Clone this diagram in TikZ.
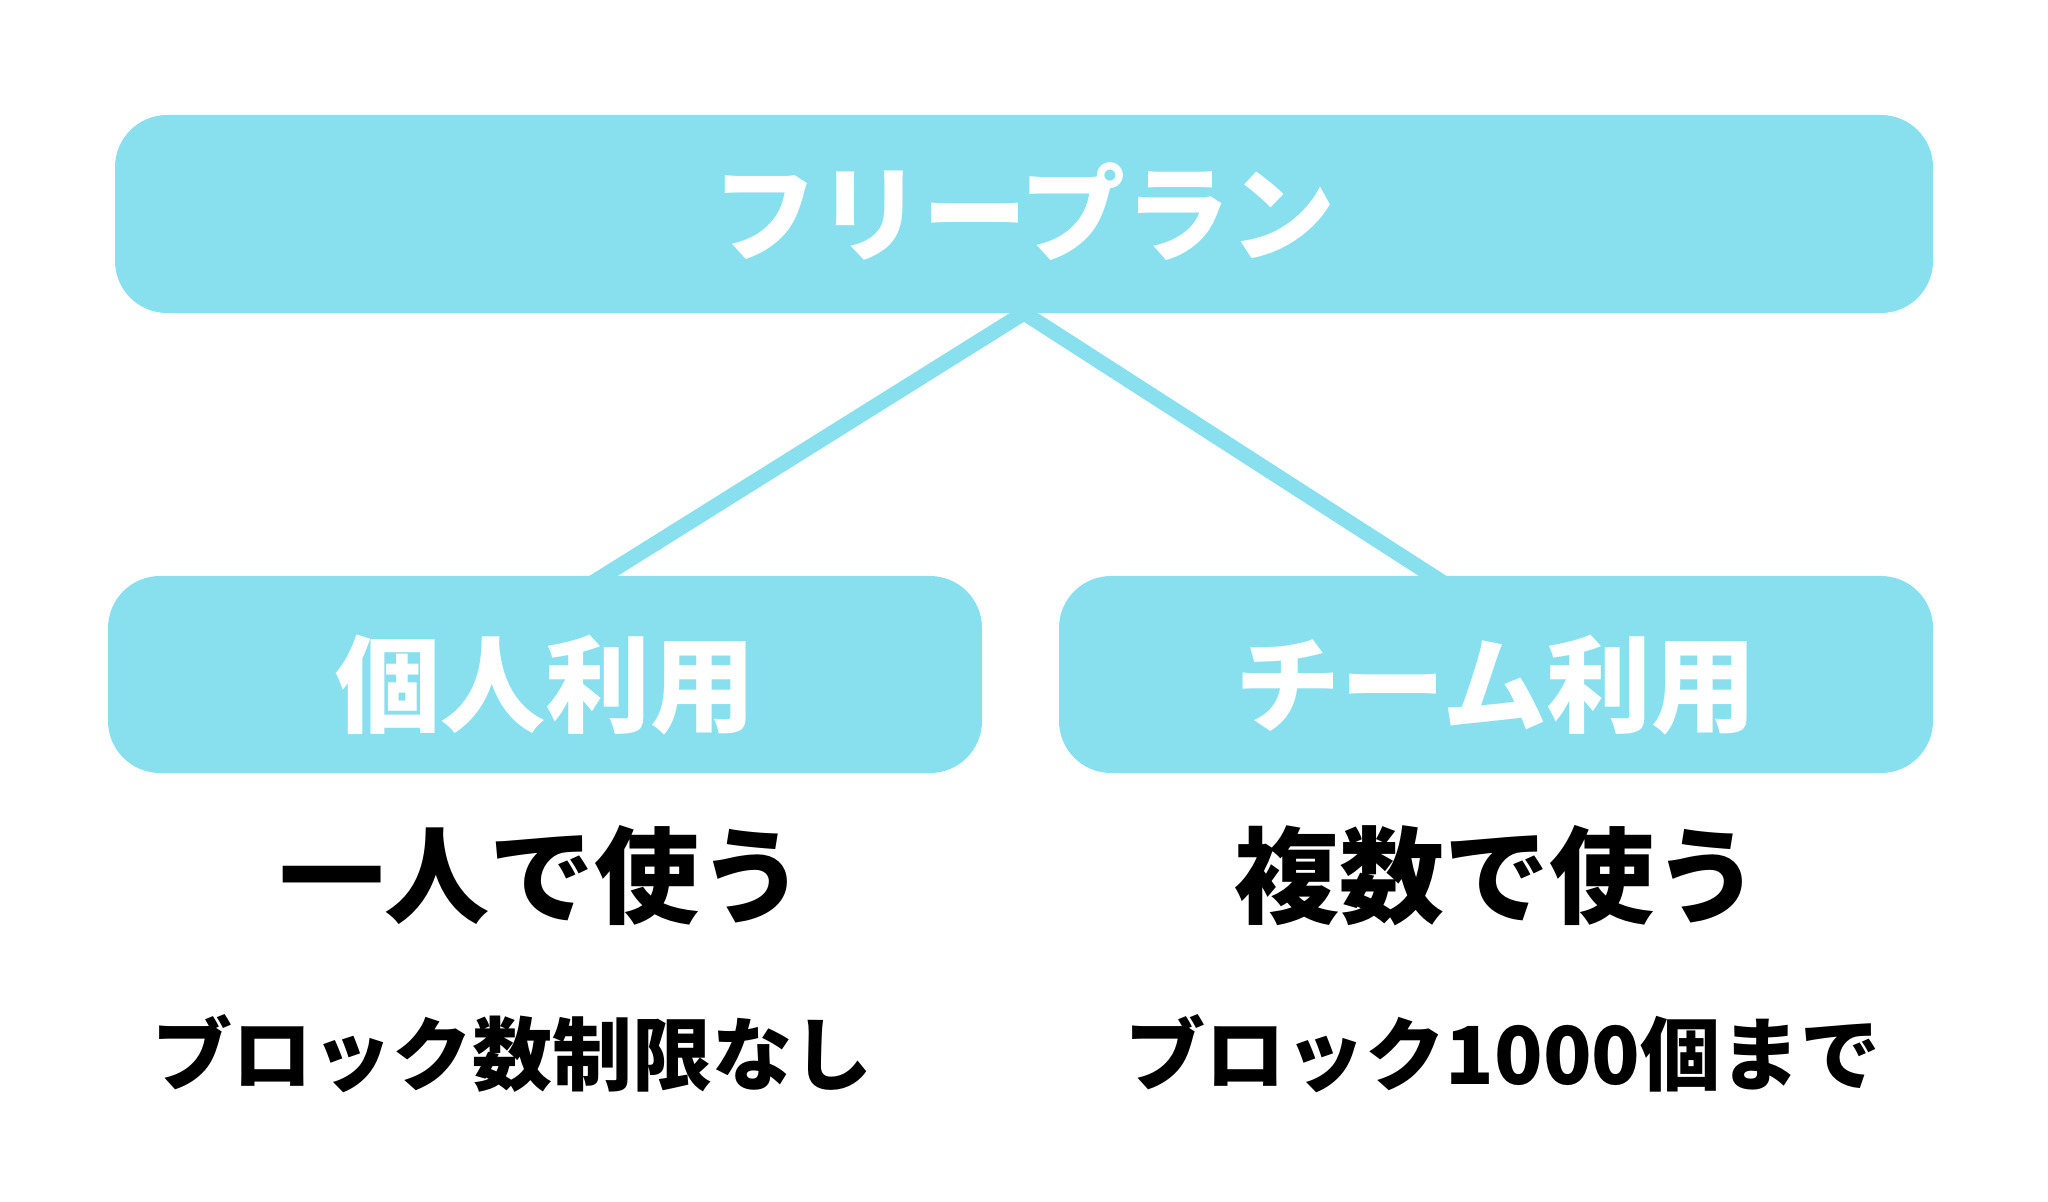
\documentclass[tikz,border=0pt]{standalone}
\usepackage{fontspec}
\setmainfont{Noto Sans CJK JP}
\usepackage{tikz}
\usetikzlibrary{backgrounds}
\definecolor{planblue}{HTML}{88E0EF}
\newcommand{\bigsize}{\fontsize{52.5pt}{60pt}\selectfont}
\newcommand{\smallsize}{\fontsize{40pt}{48pt}\selectfont}
\tikzstyle{planbox}=[fill=planblue, rounded corners=26pt, inner sep=0, outer sep=0,
                     text=white, font=\bfseries\bigsize, text height=46.2pt, text depth=6.3pt]
\tikzstyle{usebox}=[planbox, text height=56.2pt, minimum width=437pt, minimum height=98.5pt]
\tikzstyle{caption}=[inner sep=0, font=\bfseries\bigsize, text height=46.2pt, text depth=6.3pt]
\tikzstyle{note}=[caption, font=\bfseries\smallsize, text height=35.2pt, text depth=4.8pt]
\tikzstyle{link}=[draw=planblue, line width=7.5pt]

\begin{document}
\begin{tikzpicture}[x=0.5pt, y={(0pt,-0.5pt)}]
    \useasboundingbox (0,0) rectangle (2048,1202);
    \node[planbox, minimum width=909pt, minimum height=99pt] (plan) at (1024,214) {フリープラン};
    \node[usebox] (personal) at (545,674.5) {個人利用};
    \node[usebox] (team) at (1496,674.5) {チーム利用};
    % line ends hidden inside the lower boxes
    \coordinate (personal top) at (565,600);
    \coordinate (team top) at (1470,600);
    \begin{scope}[on background layer]
        \draw[link] (plan.south) -- (personal top);
        \draw[link] (plan.south) -- (team top);
    \end{scope}
    \node[caption] (solo) at (542,876) {一人で使う};
    \node[caption] (group) at (1497,876) {複数で使う};
    \node[note] (solo limit) at (512,1054) {ブロック数制限なし};
    \node[note] (group limit) at (1503,1054) {ブロック1000個まで};
\end{tikzpicture}
\end{document}
